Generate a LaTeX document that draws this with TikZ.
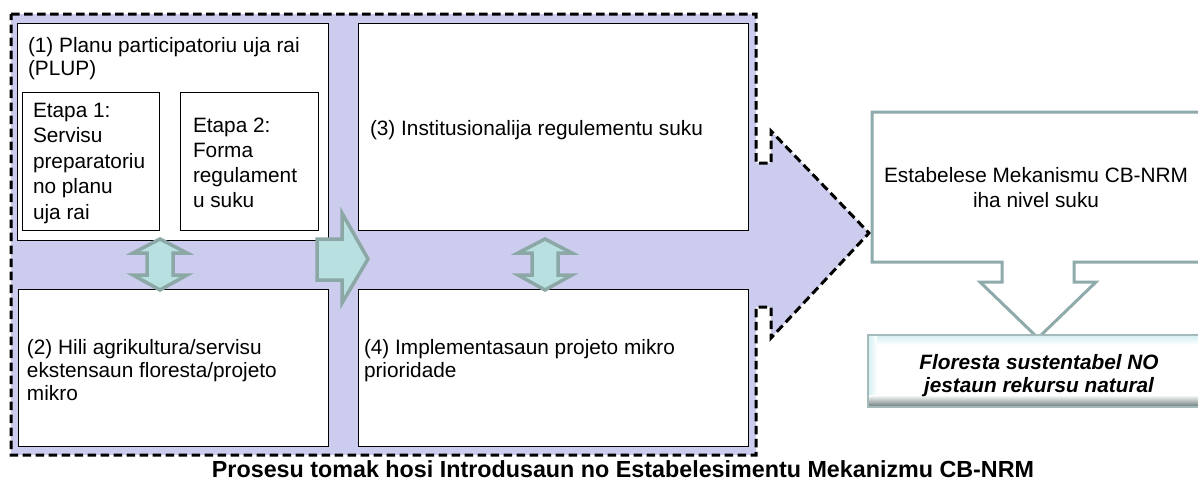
\documentclass[tikz,border=0pt]{standalone}
\usepackage{fontspec}
\setmainfont{Liberation Sans}
\usetikzlibrary{calc}
\definecolor{lav}{RGB}{204,204,238}
\definecolor{tealfill}{RGB}{185,224,225}
\definecolor{tealline}{RGB}{140,168,166}
\definecolor{cbline}{RGB}{143,170,170}
\definecolor{bevtop}{RGB}{210,238,242}
\definecolor{bevbot}{RGB}{105,120,120}
\begin{document}
\begin{tikzpicture}[x=1pt,y=-1pt,
  wbox/.style={draw=black, line width=1pt, fill=white, inner sep=0pt, outer sep=0pt, anchor=north west},
  txt/.style={inner sep=0pt, outer sep=0pt, align=left, anchor=west, font=\fontsize{20.8}{23}\selectfont},
  dblarrow/.style={draw=tealline, fill=tealfill, line width=3.5pt, line join=miter},
  frame/.style={draw=black, fill=lav, line width=3pt, dash pattern=on 8.5pt off 4.5pt}]
\clip (0,0) rectangle (1198,483);
% big lavender arrow
\draw[frame] (11,14) -- (756,14) -- (756,163) -- (771,163) -- (771,131) -- (869,233)
  -- (771,338) -- (771,307) -- (756,307) -- (756,455) -- (11,455) -- cycle;
% boxes
\node[wbox, minimum width=311, minimum height=217] (b1) at (17,23) {};
\node[wbox, minimum width=137, minimum height=138] (e1) at (22,92) {};
\node[wbox, minimum width=138, minimum height=138] (e2) at (180,92) {};
\node[wbox, minimum width=390, minimum height=207] (b3) at (358,23) {};
\node[wbox, minimum width=310, minimum height=157] (b2) at (18,289) {};
\node[wbox, minimum width=390, minimum height=157] (b4) at (358,289) {};
% double arrows
\foreach \cx in {160,545}{
  \draw[dblarrow] (\cx,239) -- (\cx+27,253) -- (\cx+13,253) -- (\cx+13,275) -- (\cx+27,275)
    -- (\cx,290) -- (\cx-27,275) -- (\cx-13,275) -- (\cx-13,253) -- (\cx-27,253) -- cycle;
}
% right block arrow
\draw[dblarrow] (317,239) -- (342,239) -- (342,213) -- (368,259) -- (342,303) -- (342,280) -- (317,280) -- cycle;
% callout box
\draw[draw=cbline, fill=white, line width=3pt] (872,112) -- (1204,112) -- (1204,262) -- (1074,262) -- (1074,282)
  -- (1096,282) -- (1038,338) -- (980,282) -- (1002,282) -- (1002,262) -- (872,262) -- cycle;
% Floresta box
\node[inner sep=0pt, outer sep=0pt, minimum width=340, minimum height=72, anchor=north west, fill=white] (fl) at (868,335) {};
\shade[top color=bevtop, bottom color=white] (fl.north west) rectangle ($(fl.north east)+(0,10)$);
\shade[left color=bevtop, right color=white] (fl.north west) rectangle ($(fl.south west)+(9,0)$);
\shade[top color=white, bottom color=bevbot] ($(fl.south west)+(0,-12)$) rectangle (fl.south east);
\draw[draw=cbline!80, line width=1.5pt] (fl.north west) rectangle (fl.south east);
% texts
\node[txt] (t1) at (28,58.9) {\strut(1) Planu participatoriu uja rai\\(PLUP)\strut};
\node[txt, font=\fontsize{20.8}{25.5}\selectfont] (te1) at (33,162.9) {\strut Etapa 1:\\Servisu\\preparatoriu\\no planu\\uja rai\strut};
\node[txt, font=\fontsize{20.8}{25}\selectfont] (te2) at (193,164.5) {\strut Etapa 2:\\Forma\\regulament\\u suku\strut};
\node[txt] (t3) at (370,130.4) {\strut(3) Institusionalija regulementu suku\strut};
\node[txt] (t2) at (27,372.4) {\strut(2) Hili agrikultura/servisu\\ekstensaun floresta/projeto\\mikro\strut};
\node[txt] (t4) at (364,361.4) {\strut(4) Implementasaun projeto mikro\\prioridade\strut};
\node[txt, align=center, anchor=center, font=\fontsize{20.8}{25}\selectfont] (tcb) at (1036,189.5) {\strut Estabelese Mekanismu CB-NRM\\iha nivel suku\strut};
\node[txt, align=center, anchor=center, font=\fontsize{20.8}{23}\selectfont\bfseries\itshape] (tfl) at (1039,376) {\strut Floresta sustentabel NO\\jestaun rekursu natural\strut};
\node[txt, align=center, anchor=center, font=\fontsize{23.3}{27}\selectfont\bfseries] (cap) at (623,471.6) {\strut Prosesu tomak hosi Introdusaun no Estabelesimentu Mekanizmu CB-NRM\strut};
\end{tikzpicture}
\end{document}
